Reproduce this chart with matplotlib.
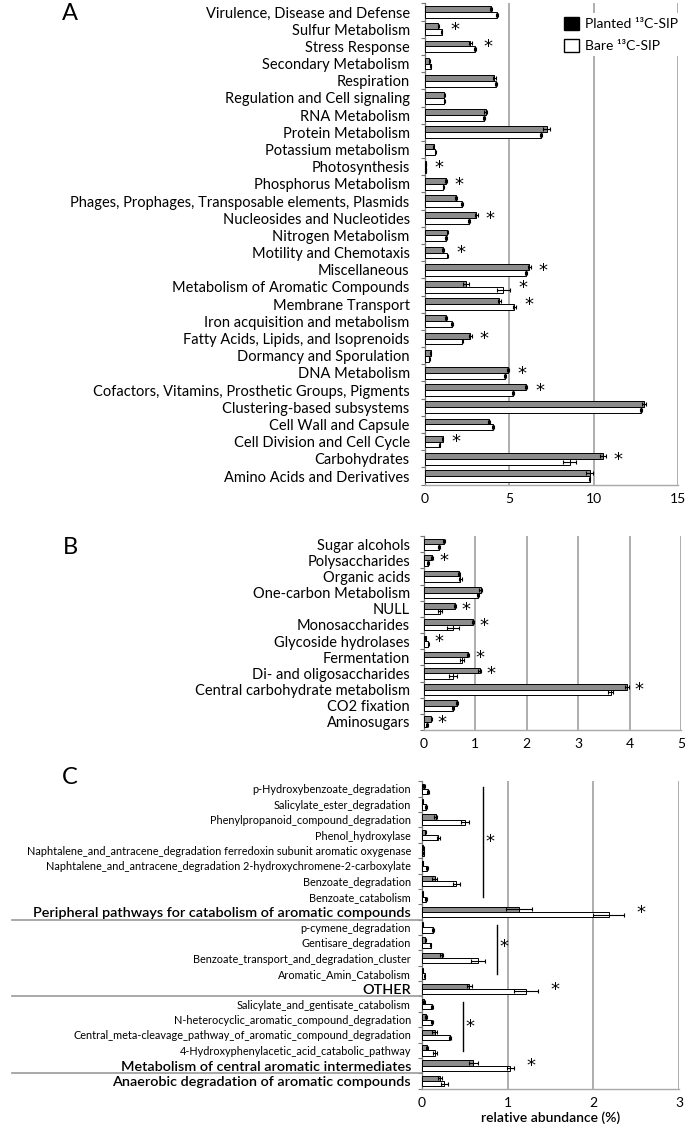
import matplotlib
matplotlib.use('Agg')
import matplotlib.pyplot as plt
from matplotlib.patches import Patch
import numpy as np

plt.rcParams['font.family'] = ['Lato', 'DejaVu Sans']

# ---------------- Panel A data ----------------
a_cats = ["Virulence, Disease and Defense", "Sulfur Metabolism", "Stress Response",
          "Secondary Metabolism", "Respiration", "Regulation and Cell signaling",
          "RNA Metabolism", "Protein Metabolism", "Potassium metabolism", "Photosynthesis",
          "Phosphorus Metabolism", "Phages, Prophages, Transposable elements, Plasmids",
          "Nucleosides and Nucleotides", "Nitrogen Metabolism", "Motility and Chemotaxis",
          "Miscellaneous", "Metabolism of Aromatic Compounds", "Membrane Transport",
          "Iron acquisition and metabolism", "Fatty Acids, Lipids, and Isoprenoids",
          "Dormancy and Sporulation", "DNA Metabolism",
          "Cofactors, Vitamins, Prosthetic Groups, Pigments", "Clustering-based subsystems",
          "Cell Wall and Capsule", "Cell Division and Cell Cycle", "Carbohydrates",
          "Amino Acids and Derivatives"]
a_planted = [3.92, 0.78, 2.69, 0.25, 4.12, 1.14, 3.59, 7.22, 0.51, 0.06, 1.24, 1.86, 3.04, 1.33,
             1.08, 6.18, 2.45, 4.41, 1.24, 2.69, 0.33, 4.92, 5.98, 13.0, 3.82, 1.04, 10.53, 9.76]
a_planted_err = [0.08, 0.03, 0.08, 0.02, 0.06, 0.03, 0.07, 0.22, 0.03, 0.01, 0.05, 0.06, 0.08, 0.04,
                 0.05, 0.08, 0.18, 0.1, 0.06, 0.07, 0.02, 0.06, 0.08, 0.12, 0.06, 0.04, 0.18, 0.22]
a_bare = [4.27, 0.98, 2.96, 0.33, 4.20, 1.14, 3.49, 6.88, 0.61, 0.04, 1.08, 2.20, 2.61, 1.25,
          1.33, 5.98, 4.65, 5.29, 1.61, 2.22, 0.25, 4.73, 5.20, 12.8, 4.02, 0.88, 8.57, 9.76]
a_bare_err = [0.04, 0.03, 0.05, 0.02, 0.05, 0.03, 0.05, 0.06, 0.03, 0.01, 0.04, 0.08, 0.05, 0.04,
              0.04, 0.05, 0.4, 0.1, 0.04, 0.05, 0.02, 0.05, 0.05, 0.06, 0.05, 0.03, 0.4, 0.05]
a_sig = [False, True, True, False, False, False, False, False, False, True, True, False, True, False,
         True, True, True, True, False, True, False, True, True, False, False, True, True, False]
a_xticks = [0, 5, 10, 15]

# ---------------- Panel B data ----------------
b_cats = ["Sugar alcohols", "Polysaccharides", "Organic acids", "One-carbon Metabolism", "NULL",
          "Monosaccharides", "Glycoside hydrolases", "Fermentation", "Di- and oligosaccharides",
          "Central carbohydrate metabolism", "CO2 fixation", "Aminosugars"]
b_planted = [0.38, 0.16, 0.69, 1.10, 0.60, 0.95, 0.03, 0.86, 1.08, 3.95, 0.65, 0.14]
b_planted_err = [0.02, 0.02, 0.02, 0.03, 0.02, 0.02, 0.01, 0.02, 0.03, 0.03, 0.02, 0.01]
b_bare = [0.29, 0.08, 0.71, 1.05, 0.31, 0.56, 0.08, 0.74, 0.56, 3.63, 0.56, 0.05]
b_bare_err = [0.02, 0.02, 0.02, 0.02, 0.04, 0.12, 0.01, 0.04, 0.08, 0.05, 0.02, 0.02]
b_sig = [False, True, False, False, True, True, True, True, True, True, False, True]
b_xticks = [0, 1, 2, 3, 4, 5]

# ---------------- Panel C data ----------------
c_cats = ["p-Hydroxybenzoate_degradation", "Salicylate_ester_degradation",
          "Phenylpropanoid_compound_degradation", "Phenol_hydroxylase",
          "Naphtalene_and_antracene_degradation ferredoxin subunit aromatic oxygenase",
          "Naphtalene_and_antracene_degradation 2-hydroxychromene-2-carboxylate",
          "Benzoate_degradation", "Benzoate_catabolism",
          "Peripheral pathways for catabolism of aromatic compounds",
          "p-cymene_degradation", "Gentisare_degradation",
          "Benzoate_transport_and_degradation_cluster", "Aromatic_Amin_Catabolism", "OTHER",
          "Salicylate_and_gentisate_catabolism", "N-heterocyclic_aromatic_compound_degradation",
          "Central_meta-cleavage_pathway_of_aromatic_compound_degradation",
          "4-Hydroxyphenylacetic_acid_catabolic_pathway",
          "Metabolism of central aromatic intermediates",
          "Anaerobic degradation of aromatic compounds"]
c_group = [False, False, False, False, False, False, False, False, True,
           False, False, False, False, True, False, False, False, False, True, True]
c_planted = [0.02, 0.01, 0.16, 0.04, 0.015, 0.01, 0.15, 0.01, 1.13, 0.01, 0.04, 0.23, 0.01, 0.55,
             0.02, 0.05, 0.15, 0.06, 0.60, 0.21]
c_planted_err = [0.01, 0.005, 0.02, 0.01, 0.005, 0.005, 0.03, 0.005, 0.15, 0.005, 0.01, 0.02, 0.005,
                 0.03, 0.01, 0.01, 0.03, 0.01, 0.05, 0.02]
c_bare = [0.07, 0.05, 0.50, 0.19, 0.02, 0.06, 0.40, 0.05, 2.18, 0.13, 0.10, 0.65, 0.03, 1.21,
          0.12, 0.12, 0.33, 0.15, 1.03, 0.26]
c_bare_err = [0.01, 0.01, 0.05, 0.02, 0.005, 0.01, 0.04, 0.01, 0.18, 0.01, 0.01, 0.08, 0.005, 0.14,
              0.01, 0.01, 0.01, 0.02, 0.04, 0.04]
c_sig = [False] * 8 + [True] + [False] * 4 + [True] + [False] * 4 + [True, False]
c_xticks = [0, 1, 2, 3]

W, H = 685, 1126
fig = plt.figure(figsize=(W / 100, H / 100), dpi=100)


def fax(l, r, t, b):
    return fig.add_axes([l / W, 1 - b / H, (r - l) / W, (b - t) / H])


GRAY = '#8c8c8c'
GRID = '#a8a8a8'


def panel(ax, cats, planted, perr, bare, berr, sig, xticks, label_fs, pad, star_off, fs_tick=10):
    n = len(cats)
    y = np.arange(n)
    h = 0.34
    ekw = dict(ecolor='black', elinewidth=0.8, capsize=1.5, capthick=0.8)
    ax.barh(y - h / 2, planted, height=h, color=GRAY, edgecolor='black', linewidth=0.7,
            xerr=perr, error_kw=ekw, zorder=3)
    ax.barh(y + h / 2, bare, height=h, color='white', edgecolor='black', linewidth=0.7,
            xerr=berr, error_kw=ekw, zorder=3)
    ax.set_ylim(n - 0.5, -0.5)
    ax.set_xlim(xticks[0], xticks[-1])
    ax.set_xticks(xticks)
    ax.set_xticklabels([str(t) for t in xticks], fontsize=fs_tick)
    ax.tick_params(axis='x', length=0, pad=6)
    ax.set_yticks(y)
    ax.set_yticklabels(cats, fontsize=label_fs)
    ax.tick_params(axis='y', length=0, pad=pad)
    ax.set_yticks(np.arange(-0.5, n, 1.0), minor=True)
    ax.tick_params(axis='y', which='minor', length=3, width=0.8, color='#777777', direction='out')
    ax.set_axisbelow(True)
    ax.xaxis.grid(True, color=GRID, linewidth=1.3)
    for s in ['top', 'right']:
        ax.spines[s].set_visible(False)
    ax.spines['left'].set_color('#777777')
    ax.spines['left'].set_linewidth(0.9)
    ax.spines['bottom'].set_color(GRID)
    ax.spines['bottom'].set_linewidth(1.0)
    for i in range(n):
        if sig[i]:
            xm = max(planted[i] + perr[i], bare[i] + berr[i])
            ax.text(xm + star_off, i + 0.05, '*', fontsize=13, ha='center', va='center',
                    family=['DejaVu Sans'])
    return y


# Panel A
axA = fax(425, 678, 3.4, 484.6)
panel(axA, a_cats, a_planted, a_planted_err, a_bare, a_bare_err, a_sig, a_xticks, 10.5, 11, 0.75)
fig.text(70 / W, 1 - 14 / H, 'A', fontsize=17, ha='center', va='center')

# Panel B
axB = fax(424, 681, 536, 730)
panel(axB, b_cats, b_planted, b_planted_err, b_bare, b_bare_err, b_sig, b_xticks, 10.5, 10, 0.2)
fig.text(70 / W, 1 - 547 / H, 'B', fontsize=17, ha='center', va='center')

# Panel C
axC = fax(422, 679, 781.3, 1088.7)
yC = panel(axC, c_cats, c_planted, c_planted_err, c_bare, c_bare_err, c_sig, c_xticks, 7.8, 8, 0.2)
for lbl, g in zip(axC.get_yticklabels(), c_group):
    if g:
        lbl.set_fontsize(10.4)
        lbl.set_fontweight('semibold')
fig.text(70 / W, 1 - 778 / H, 'C', fontsize=17, ha='center', va='center')
axC.set_xlabel('relative abundance (%)', fontsize=10, labelpad=2, fontweight='semibold')

# group separators in label area of C
x0 = (12 - 422) / (679 - 422)
for b in [8.5, 13.5, 18.5]:
    axC.plot([x0, 0], [b, b], color='#9a9a9a', lw=1.2, transform=axC.get_yaxis_transform(),
             clip_on=False)

# significance brackets in C (group of sub-pathways)
for (x, r0, r1, sy) in [(0.71, 0, 7, 3.45), (0.88, 9, 12, 10.3), (0.48, 14, 17, 15.5)]:
    axC.plot([x, x], [r0 - 0.15, r1 + 0.05], color='black', lw=1.0, zorder=4)
    axC.text(x + 0.08, sy, '*', fontsize=13, ha='center', va='center', family=['DejaVu Sans'])

# legend
handles = [Patch(facecolor='black', edgecolor='black', label='Planted ¹³C-SIP'),
           Patch(facecolor='white', edgecolor='black', label='Bare ¹³C-SIP')]
leg = fig.legend(handles=handles, loc='upper left', bbox_to_anchor=(553 / W, 1 - 6 / H),
                 fontsize=10, frameon=True, handlelength=1.1, handleheight=1.1,
                 handletextpad=0.4, labelspacing=0.6, borderpad=0.3)
leg.get_frame().set_facecolor('white')
leg.get_frame().set_edgecolor('none')
leg.get_frame().set_alpha(1)

fig.savefig('out.png', dpi=100)
